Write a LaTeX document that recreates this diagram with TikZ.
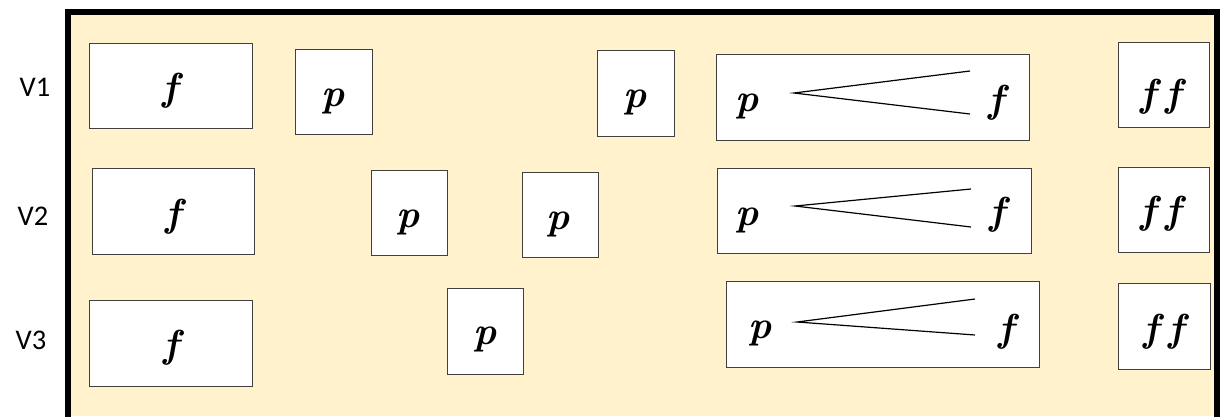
\documentclass[tikz,border=0pt]{standalone}
\usepackage{fontspec}
\newfontfamily\labelfont{Carlito}
\definecolor{panelfill}{HTML}{FFF2CC}
\definecolor{boxedge}{HTML}{404040}
\tikzset{
  box/.style={draw=boxedge, fill=white, line width=1pt, inner sep=0pt},
  dyn/.style={inner sep=0pt, font=\fontsize{39}{39}\selectfont\bfseries\itshape},
  voice/.style={inner sep=0pt, font=\labelfont\fontsize{28.5}{28.5}\selectfont},
  hairpin/.style={line width=1.2pt, line join=miter}
}
\newcommand{\dblf}{f\hspace{9pt}f}
\begin{document}
\begin{tikzpicture}[x=1pt, y=-1pt]
\useasboundingbox (0,0) rectangle (1220,416);
% panel with open bottom edge
\fill[panelfill] (68,12) rectangle (1217,416);
\draw[line width=6.5pt, line join=miter] (68,420) -- (68,12) -- (1217,12) -- (1217,420);

% voice labels
\node[voice] (v1) at (35,87) {V1};
\node[voice] (v2) at (33,216) {V2};
\node[voice] (v3) at (31,340) {V3};

% ---------- V1 ----------
\node[box, minimum width=163pt, minimum height=85pt] (r1f)  at (170.5,85.5) {};
\node[box, minimum width=77pt,  minimum height=85pt] (r1p1) at (333.5,91.5) {};
\node[box, minimum width=77pt,  minimum height=86pt] (r1p2) at (635.5,93) {};
\node[box, minimum width=313pt, minimum height=86pt] (r1h)  at (872.5,97) {};
\node[box, minimum width=91pt,  minimum height=85pt] (r1ff) at (1163.5,84.5) {};
\node[dyn] (t1f)  at (170,91) {f};
\node[dyn] (t1p1) at (333,101) {p};
\node[dyn] (t1p2) at (635,102) {p};
\node[dyn] (t1hp) at (747,106) {p};
\node[dyn] (t1hf) at (996,103) {f};
\node[dyn] (t1ff) at (1161,97) {\dblf};
\coordinate (h1tip) at (794,93);
\coordinate (h1up)  at (970,71);
\coordinate (h1dn)  at (970,114);
\draw[hairpin] (h1up) -- (h1tip) -- (h1dn);

% ---------- V2 ----------
\node[box, minimum width=162pt, minimum height=86pt] (r2f)  at (173,211) {};
\node[box, minimum width=76pt,  minimum height=85pt] (r2p1) at (409,212.5) {};
\node[box, minimum width=76pt,  minimum height=85pt] (r2p2) at (560,214.5) {};
\node[box, minimum width=314pt, minimum height=85pt] (r2h)  at (874,210.5) {};
\node[box, minimum width=91pt,  minimum height=85pt] (r2ff) at (1163.5,209.5) {};
\node[dyn] (t2f)  at (173,217) {f};
\node[dyn] (t2p1) at (408,222) {p};
\node[dyn] (t2p2) at (558,224) {p};
\node[dyn] (t2hp) at (747,220) {p};
\node[dyn] (t2hf) at (997,215) {f};
\node[dyn] (t2ff) at (1161,214) {\dblf};
\coordinate (h2tip) at (795,206);
\coordinate (h2up)  at (971,189);
\coordinate (h2dn)  at (971,227);
\draw[hairpin] (h2up) -- (h2tip) -- (h2dn);

% ---------- V3 ----------
\node[box, minimum width=163pt, minimum height=86pt] (r3f)  at (170.5,343) {};
\node[box, minimum width=76pt,  minimum height=86pt] (r3p)  at (485,331) {};
\node[box, minimum width=313pt, minimum height=86pt] (r3h)  at (882.5,324) {};
\node[box, minimum width=92pt,  minimum height=86pt] (r3ff) at (1164,326) {};
\node[dyn] (t3f)  at (171,348) {f};
\node[dyn] (t3p)  at (485,339) {p};
\node[dyn] (t3hp) at (760,333) {p};
\node[dyn] (t3hf) at (1006,332) {f};
\node[dyn] (t3ff) at (1164,332) {\dblf};
\coordinate (h3tip) at (797,322);
\coordinate (h3up)  at (975,299);
\coordinate (h3dn)  at (975,335);
\draw[hairpin] (h3up) -- (h3tip) -- (h3dn);
\end{tikzpicture}
\end{document}
